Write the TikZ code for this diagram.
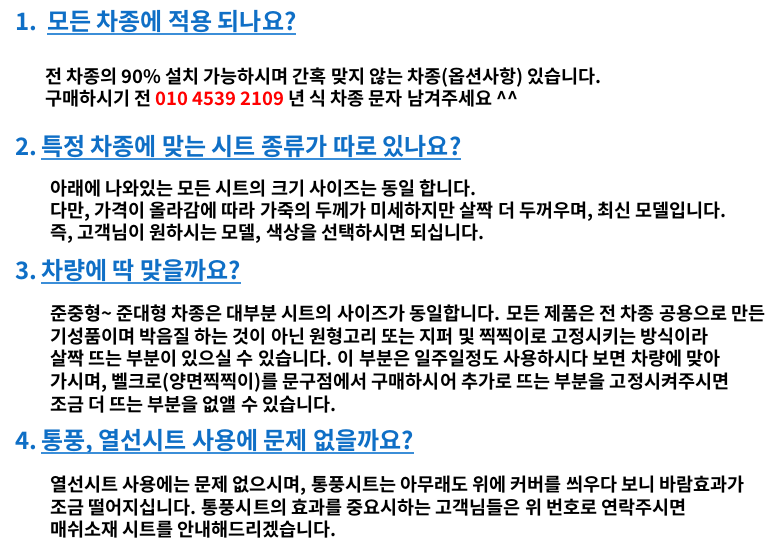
\documentclass[tikz,border=0pt]{standalone}
\usepackage{fontspec}
\usepackage{tikz}
\newfontfamily\headfont{Noto Sans CJK KR Bold}
\newfontfamily\bodyfont{Noto Sans CJK KR Bold}
\definecolor{headblue}{HTML}{0F6FC6}
\definecolor{lineblue}{HTML}{3B8ED8}
\definecolor{numred}{HTML}{FF0000}

\begin{document}
\begin{tikzpicture}[x=1pt, y=-1pt,
  every node/.style={inner sep=0pt, outer sep=0pt, anchor=base west},
  head/.style={text=headblue, font=\headfont\fontsize{24}{24}\selectfont},
  body/.style={text=black, font=\bodyfont\fontsize{18.5}{18.5}\selectfont},
  uline/.style={draw=lineblue, line width=2pt}]
\useasboundingbox[fill=white] (0,0) rectangle (779,543);

\node[head] (n1) at (15,31) {1.};
\node[head] (q1) at (47,31) {모든 차종에 적용 되나요?};
\node[body] (b11) at (45,83) {전 차종의 90\% 설치 가능하시며 간혹 맞지 않는 차종(옵션사항) 있습니다.};
\node[body] (b12) at (45,106) {구매하시기 전 \textcolor{numred}{010 4539 2109} 년 식 차종 문자 남겨주세요 \textasciicircum\textasciicircum};

\node[head] (n2) at (15,155) {2.};
\node[head] (q2) at (41,155) {특정 차종에 맞는 시트 종류가 따로 있나요?};
\node[body] (b21) at (50,195) {아래에 나와있는 모든 시트의 크기 사이즈는 동일 합니다.};
\node[body] (b22) at (50,217) {다만, 가격이 올라감에 따라 가죽의 두께가 미세하지만 살짝 더 두꺼우며, 최신 모델입니다.};
\node[body] (b23) at (50,239) {즉, 고객님이 원하시는 모델, 색상을 선택하시면 되십니다.};

\node[head] (n3) at (15,279) {3.};
\node[head] (q3) at (41,279) {차량에 딱 맞을까요?};
\node[body] (b31) at (50,320) {준중형\textasciitilde{} 준대형 차종은 대부분 시트의 사이즈가 동일합니다. 모든 제품은 전 차종 공용으로 만든};
\node[body] (b32) at (50,343) {기성품이며 박음질 하는 것이 아닌 원형고리 또는 지퍼 및 찍찍이로 고정시키는 방식이라};
\node[body] (b33) at (50,365) {살짝 뜨는 부분이 있으실 수 있습니다. 이 부분은 일주일정도 사용하시다 보면 차량에 맞아};
\node[body] (b34) at (50,388) {가시며, 벨크로(양면찍찍이)를 문구점에서 구매하시어 추가로 뜨는 부분을 고정시켜주시면};
\node[body] (b35) at (50,411) {조금 더 뜨는 부분을 없앨 수 있습니다.};

\node[head] (n4) at (15,449) {4.};
\node[head] (q4) at (41,449) {통풍, 열선시트 사용에 문제 없을까요?};
\node[body] (b41) at (50,491) {열선시트 사용에는 문제 없으시며, 통풍시트는 아무래도 위에 커버를 씌우다 보니 바람효과가};
\node[body] (b42) at (50,514) {조금 떨어지십니다. 통풍시트의 효과를 중요시하는 고객님들은 위 번호로 연락주시면};
\node[body] (b43) at (50,536) {매쉬소재 시트를 안내해드리겠습니다.};

% underlines
\draw[uline] ([yshift=-3.5pt]q1.base west) -- ([yshift=-3.5pt]q1.base east);
\draw[uline] ([yshift=-3.5pt]q2.base west) -- ([yshift=-3.5pt]q2.base east);
\draw[uline] ([yshift=-3.5pt]q3.base west) -- ([yshift=-3.5pt]q3.base east);
\draw[uline] ([yshift=-3.5pt]q4.base west) -- ([yshift=-3.5pt]q4.base east);
\end{tikzpicture}
\end{document}
